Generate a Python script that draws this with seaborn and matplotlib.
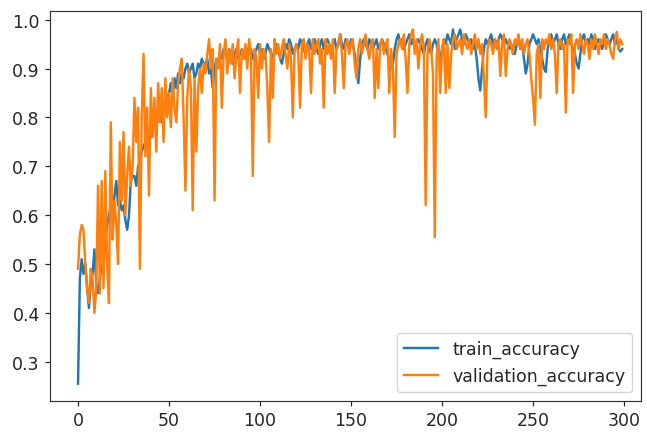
import numpy as np
import pandas as pd
import seaborn as sns
import matplotlib
matplotlib.use("Agg")
import matplotlib.pyplot as plt

# ===== values, one per epoch =====
train_accuracy = [
    0.255, 0.47, 0.51, 0.48, 0.50, 0.45, 0.41, 0.46, 0.48, 0.53,
    0.46, 0.44, 0.47, 0.50, 0.49, 0.55, 0.58, 0.60, 0.62, 0.59,
    0.64, 0.67, 0.62, 0.63, 0.61, 0.62, 0.59, 0.57, 0.60, 0.67,
    0.68, 0.68, 0.66, 0.70, 0.71, 0.73, 0.74, 0.75, 0.77, 0.76,
    0.76, 0.78, 0.79, 0.78, 0.80, 0.81, 0.79, 0.80, 0.82, 0.84,
    0.85, 0.87, 0.84, 0.88, 0.86, 0.89, 0.87, 0.89, 0.88, 0.90,
    0.91, 0.89, 0.90, 0.91, 0.88, 0.89, 0.91, 0.90, 0.92, 0.91,
    0.91, 0.92, 0.89, 0.90, 0.86, 0.90, 0.92, 0.91, 0.93, 0.92,
    0.94, 0.93, 0.92, 0.94, 0.93, 0.91, 0.93, 0.94, 0.92, 0.93,
    0.94, 0.93, 0.92, 0.94, 0.93, 0.94, 0.92, 0.93, 0.94, 0.95,
    0.93, 0.94, 0.92, 0.93, 0.95, 0.94, 0.93, 0.92, 0.94, 0.95,
    0.94, 0.92, 0.91, 0.93, 0.95, 0.94, 0.96, 0.95, 0.93, 0.94,
    0.95, 0.94, 0.96, 0.95, 0.94, 0.93, 0.95, 0.96, 0.94, 0.95,
    0.96, 0.94, 0.93, 0.95, 0.96, 0.94, 0.95, 0.96, 0.95, 0.93,
    0.95, 0.96, 0.94, 0.95, 0.97, 0.95, 0.94, 0.96, 0.95, 0.94,
    0.96, 0.95, 0.93, 0.90, 0.87, 0.92, 0.95, 0.96, 0.95, 0.94,
    0.96, 0.95, 0.94, 0.95, 0.96, 0.94, 0.95, 0.96, 0.95, 0.94,
    0.93, 0.92, 0.90, 0.91, 0.94, 0.96, 0.97, 0.95, 0.96, 0.94,
    0.95, 0.96, 0.97, 0.95, 0.96, 0.94, 0.95, 0.96, 0.95, 0.94,
    0.93, 0.95, 0.96, 0.94, 0.93, 0.95, 0.96, 0.95, 0.93, 0.92,
    0.94, 0.96, 0.95, 0.97, 0.96, 0.95, 0.98, 0.94, 0.96, 0.97,
    0.98, 0.96, 0.95, 0.97, 0.96, 0.95, 0.96, 0.94, 0.95, 0.92,
    0.88, 0.855, 0.90, 0.94, 0.96, 0.95, 0.96, 0.97, 0.95, 0.96,
    0.95, 0.96, 0.97, 0.96, 0.95, 0.96, 0.95, 0.94, 0.95, 0.93,
    0.93, 0.95, 0.96, 0.94, 0.95, 0.92, 0.89, 0.91, 0.95, 0.96,
    0.97, 0.96, 0.95, 0.96, 0.94, 0.92, 0.90, 0.893, 0.94, 0.96,
    0.97, 0.95, 0.96, 0.97, 0.95, 0.94, 0.96, 0.97, 0.95, 0.96,
    0.97, 0.95, 0.94, 0.93, 0.91, 0.90, 0.93, 0.96, 0.97, 0.95,
    0.96, 0.95, 0.97, 0.96, 0.94, 0.95, 0.96, 0.95, 0.94, 0.96,
    0.97, 0.96, 0.95, 0.96, 0.97, 0.95, 0.96, 0.94, 0.935, 0.94,
]

validation_accuracy = [
    0.49, 0.56, 0.58, 0.57, 0.50, 0.45, 0.42, 0.49, 0.47, 0.40,
    0.45, 0.66, 0.44, 0.67, 0.45, 0.69, 0.50, 0.42, 0.79, 0.55,
    0.63, 0.58, 0.50, 0.75, 0.63, 0.77, 0.60, 0.68, 0.74, 0.66,
    0.70, 0.84, 0.75, 0.82, 0.49, 0.80, 0.93, 0.72, 0.82, 0.64,
    0.86, 0.76, 0.84, 0.73, 0.87, 0.79, 0.86, 0.75, 0.88, 0.80,
    0.85, 0.78, 0.88, 0.82, 0.79, 0.87, 0.90, 0.92, 0.80, 0.65,
    0.84, 0.90, 0.86, 0.61, 0.88, 0.73, 0.86, 0.90, 0.85, 0.91,
    0.89, 0.93, 0.96, 0.90, 0.94, 0.63, 0.92, 0.90, 0.95, 0.82,
    0.93, 0.96, 0.89, 0.94, 0.91, 0.95, 0.88, 0.93, 0.96, 0.85,
    0.94, 0.92, 0.95, 0.90, 0.96, 0.93, 0.68, 0.94, 0.92, 0.84,
    0.95, 0.90, 0.94, 0.93, 0.86, 0.75, 0.94, 0.84, 0.96, 0.93,
    0.95, 0.92, 0.94, 0.96, 0.93, 0.90, 0.95, 0.92, 0.80, 0.94,
    0.95, 0.93, 0.82, 0.95, 0.96, 0.92, 0.95, 0.94, 0.85, 0.96,
    0.93, 0.95, 0.96, 0.91, 0.94, 0.82, 0.96, 0.93, 0.95, 0.92,
    0.96, 0.85, 0.94, 0.95, 0.97, 0.93, 0.86, 0.95, 0.96, 0.93,
    0.95, 0.96, 0.91, 0.88, 0.94, 0.96, 0.93, 0.95, 0.97, 0.94,
    0.92, 0.95, 0.96, 0.84, 0.94, 0.86, 0.95, 0.96, 0.93, 0.95,
    0.96, 0.85, 0.94, 0.90, 0.76, 0.93, 0.95, 0.96, 0.94, 0.97,
    0.92, 0.85, 0.95, 0.97, 0.98, 0.93, 0.96, 0.90, 0.95, 0.97,
    0.94, 0.62, 0.93, 0.96, 0.94, 0.89, 0.555, 0.92, 0.96, 0.85,
    0.94, 0.96, 0.85, 0.95, 0.86, 0.93, 0.96, 0.97, 0.94, 0.95,
    0.96, 0.93, 0.97, 0.95, 0.94, 0.96, 0.93, 0.95, 0.97, 0.94,
    0.96, 0.93, 0.95, 0.88, 0.80, 0.94, 0.96, 0.95, 0.93, 0.96,
    0.94, 0.96, 0.885, 0.95, 0.97, 0.885, 0.94, 0.96, 0.95, 0.93,
    0.96, 0.95, 0.97, 0.94, 0.96, 0.93, 0.95, 0.96, 0.93, 0.88,
    0.84, 0.785, 0.93, 0.95, 0.84, 0.96, 0.94, 0.96, 0.95, 0.97,
    0.94, 0.96, 0.93, 0.85, 0.95, 0.96, 0.94, 0.95, 0.81, 0.96,
    0.95, 0.97, 0.85, 0.95, 0.96, 0.94, 0.97, 0.95, 0.93, 0.96,
    0.95, 0.92, 0.96, 0.94, 0.97, 0.95, 0.93, 0.96, 0.95, 0.97,
    0.94, 0.96, 0.95, 0.93, 0.92, 0.96, 0.975, 0.94, 0.96, 0.95,
]

series_names = ["train_accuracy", "validation_accuracy"]
epochs = np.arange(len(train_accuracy))

# long form for seaborn
data = pd.DataFrame({
    "epoch": np.concatenate([epochs, epochs]),
    "accuracy": train_accuracy + validation_accuracy,
    "series": [series_names[0]] * len(epochs) + [series_names[1]] * len(epochs),
})

plt.rcParams["font.size"] = 12.5
plt.rcParams["text.color"] = "#262626"
plt.rcParams["xtick.color"] = "#262626"
plt.rcParams["ytick.color"] = "#262626"

fig = plt.figure(figsize=(6.47, 4.35), dpi=100)
ax = fig.add_axes([50 / 647, 1 - 401.7 / 435, 591 / 647, 390 / 435])

sns.lineplot(data=data, x="epoch", y="accuracy", hue="series",
             palette=["#1f77b4", "#ff7f0e"], linewidth=1.75, ax=ax)

ax.set_xlim(-15.4, 309.3)
ax.set_ylim(0.2202, 1.0184)
ax.set_xticks([0, 50, 100, 150, 200, 250, 300])
ax.set_yticks([0.3, 0.4, 0.5, 0.6, 0.7, 0.8, 0.9, 1.0])
ax.set_xlabel("")
ax.set_ylabel("")
for spine in ax.spines.values():
    spine.set_linewidth(0.86)
    spine.set_color("#333333")
ax.tick_params(width=0.86, length=3.8, labelsize=12.5)

sns.move_legend(ax, "lower right", title=None, fontsize=12.5)

fig.savefig("out.png", dpi=100)
